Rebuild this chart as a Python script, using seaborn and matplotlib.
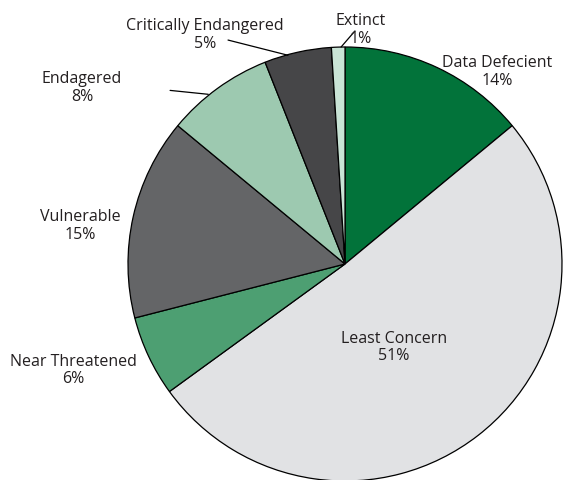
import numpy as np
import matplotlib
matplotlib.use("Agg")
import matplotlib.pyplot as plt
import seaborn as sns

# Data
categories = ["Data Defecient", "Least Concern", "Near Threatened", "Vulnerable",
              "Endagered", "Critically Endangered", "Extinct"]
percent = [14, 51, 6, 15, 8, 5, 1]
colors = ["#02733a", "#e1e2e4", "#4d9f72", "#646567", "#9dc9b0", "#464648", "#c9e4d6"]

sns.set_theme(style="white")
plt.rcParams["font.family"] = ["Open Sans", "DejaVu Sans"]

fig = plt.figure(figsize=(5.79, 4.81), dpi=100)
ax = fig.add_axes([0, 0, 1, 1])

ax.pie(percent, colors=colors, startangle=90, counterclock=False, radius=1,
       wedgeprops=dict(edgecolor="black", linewidth=0.9))

# label positions (pie radius = 1, centre at origin)
label_pos = {
    "Data Defecient": (0.700, 0.889),
    "Least Concern": (0.225, -0.382),
    "Near Threatened": (-1.253, -0.488),
    "Vulnerable": (-1.221, 0.180),
    "Endagered": (-1.212, 0.816),
    "Critically Endangered": (-0.645, 1.060),
    "Extinct": (0.074, 1.083),
}
for cat, p in zip(categories, percent):
    x, y = label_pos[cat]
    ax.text(x, y, f"{cat}\n{p}%", ha="center", va="center", fontsize=11.5,
            color="#231f20", linespacing=1.1)

# leader lines
leaders = [
    ((-0.806, 0.800), (-0.630, 0.782)),
    ((-0.539, 1.032), (-0.263, 0.962)),
    ((0.046, 1.074), (-0.018, 1.0)),
]
for (x0, y0), (x1, y1) in leaders:
    ax.plot([x0, x1], [y0, y1], color="black", linewidth=0.9)

ax.set_xlim(-345 / 217, (579 - 345) / 217)
ax.set_ylim(-216 / 217, 265 / 217)
ax.set_aspect("auto")
ax.axis("off")

fig.savefig("out.png", dpi=100)
